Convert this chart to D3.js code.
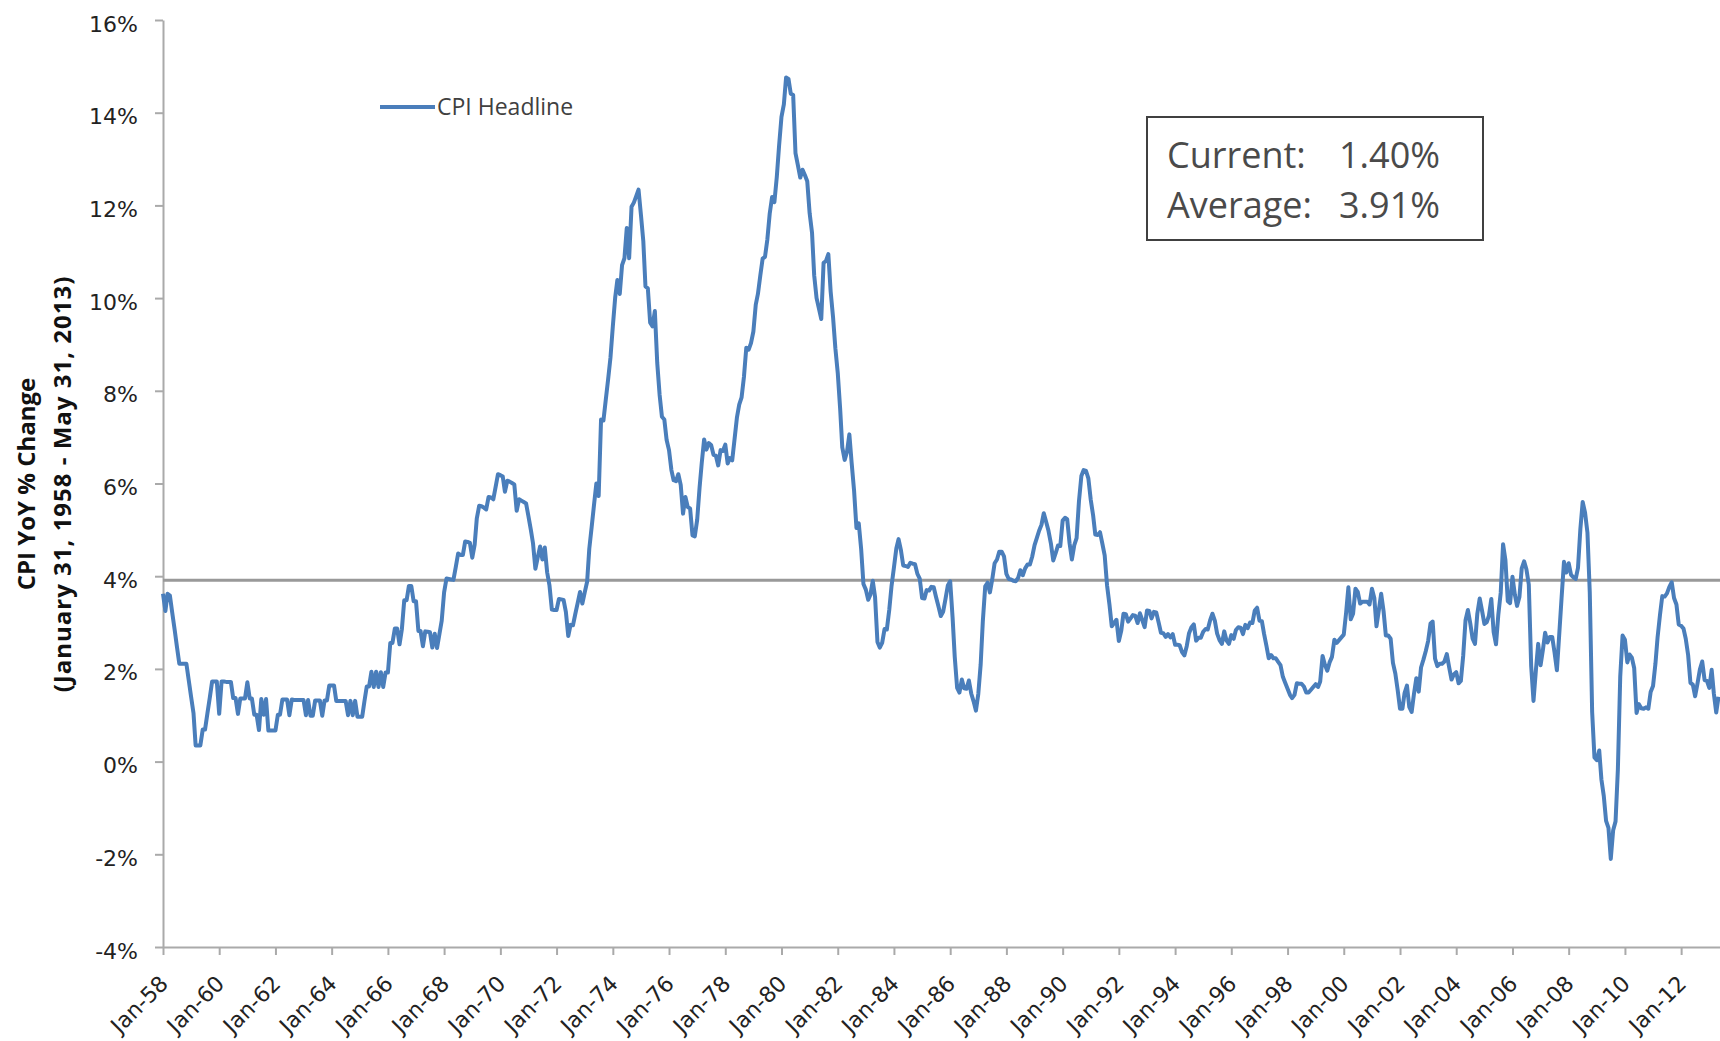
<!DOCTYPE html>
<html>
<head>
<meta charset="utf-8">
<script src="https://cdn.jsdelivr.net/npm/d3@7"></script>
<style>
    body { margin: 0; background: #fff; }
    .axis path, .axis line { stroke: #aaaaaa; stroke-width: 2px; }
    .axis text { font-family: "DejaVu Sans", sans-serif; font-size: 22px; fill: #222; }
</style>
</head>
<body>
<svg id="chart" width="1720" height="1041"></svg>
<script>
// CPI YoY % change, monthly, Jan 1958 - May 2013
const startDate = new Date(1958, 0, 1);
const cpiYoY = [
    3.62, 3.25, 3.62, 3.58, 3.21, 2.85, 2.48, 2.11, 2.11, 2.11, 2.11, 1.76,
    1.40, 1.05, 0.35, 0.35, 0.35, 0.69, 0.69, 1.04, 1.38, 1.73, 1.73, 1.73,
    1.03, 1.73, 1.73, 1.72, 1.72, 1.72, 1.37, 1.37, 1.03, 1.36, 1.36, 1.36,
    1.71, 1.36, 1.36, 1.01, 1.01, 0.68, 1.35, 1.01, 1.35, 0.67, 0.67, 0.67,
    0.67, 1.01, 1.01, 1.34, 1.34, 1.34, 1.00, 1.34, 1.33, 1.33, 1.33, 1.33,
    1.33, 1.00, 1.33, 0.99, 0.99, 1.32, 1.32, 1.32, 0.99, 1.32, 1.32, 1.64,
    1.64, 1.64, 1.31, 1.31, 1.31, 1.31, 1.31, 1.00, 1.31, 1.00, 1.31, 0.97,
    0.97, 0.97, 1.29, 1.62, 1.62, 1.94, 1.61, 1.94, 1.61, 1.93, 1.61, 1.92,
    1.92, 2.56, 2.56, 2.87, 2.87, 2.53, 2.85, 3.48, 3.48, 3.79, 3.79, 3.46,
    3.46, 2.82, 2.82, 2.49, 2.81, 2.80, 2.79, 2.46, 2.76, 2.45, 2.75, 3.04,
    3.65, 3.95, 3.94, 3.93, 3.92, 4.20, 4.49, 4.46, 4.46, 4.75, 4.74, 4.72,
    4.40, 4.68, 5.25, 5.52, 5.51, 5.48, 5.44, 5.71, 5.70, 5.66, 5.93, 6.20,
    6.18, 6.15, 5.82, 6.06, 6.04, 6.01, 5.98, 5.41, 5.66, 5.63, 5.60, 5.57,
    5.29, 5.00, 4.71, 4.16, 4.40, 4.64, 4.36, 4.62, 4.08, 3.80, 3.28, 3.27,
    3.27, 3.51, 3.50, 3.49, 3.23, 2.71, 2.95, 2.94, 3.19, 3.42, 3.66, 3.41,
    3.65, 3.88, 4.59, 5.06, 5.53, 6.00, 5.73, 7.38, 7.36, 7.80, 8.25, 8.71,
    9.39, 10.02, 10.39, 10.09, 10.71, 10.86, 11.51, 10.86, 11.97, 12.06, 12.20, 12.34,
    11.80, 11.23, 10.25, 10.21, 9.47, 9.39, 9.72, 8.60, 7.91, 7.44, 7.38, 6.94,
    6.72, 6.29, 6.07, 6.05, 6.20, 5.97, 5.35, 5.71, 5.49, 5.46, 4.88, 4.86,
    5.22, 5.91, 6.44, 6.95, 6.73, 6.87, 6.83, 6.62, 6.60, 6.39, 6.72, 6.70,
    6.84, 6.43, 6.55, 6.50, 6.95, 7.42, 7.70, 7.86, 8.31, 8.93, 8.89, 9.03,
    9.28, 9.86, 10.09, 10.49, 10.85, 10.89, 11.26, 11.82, 12.18, 12.07, 12.61, 13.29,
    13.91, 14.18, 14.76, 14.73, 14.41, 14.38, 13.13, 12.87, 12.60, 12.77, 12.65, 12.52,
    11.83, 11.41, 10.49, 10.00, 9.78, 9.55, 10.76, 10.80, 10.95, 10.14, 9.59, 8.92,
    8.39, 7.62, 6.78, 6.51, 6.68, 7.06, 6.44, 5.85, 5.04, 5.14, 4.59, 3.83,
    3.71, 3.49, 3.60, 3.90, 3.55, 2.58, 2.46, 2.56, 2.86, 2.85, 3.27, 3.79,
    4.19, 4.60, 4.80, 4.56, 4.23, 4.22, 4.20, 4.29, 4.27, 4.26, 4.05, 3.95,
    3.53, 3.52, 3.70, 3.69, 3.77, 3.76, 3.55, 3.35, 3.14, 3.23, 3.51, 3.80,
    3.89, 3.11, 2.26, 1.59, 1.49, 1.77, 1.58, 1.57, 1.75, 1.47, 1.30, 1.10,
    1.46, 2.10, 3.03, 3.78, 3.86, 3.65, 3.93, 4.28, 4.36, 4.53, 4.53, 4.43,
    4.05, 3.94, 3.93, 3.90, 3.89, 3.96, 4.13, 4.02, 4.17, 4.25, 4.25, 4.42,
    4.67, 4.83, 4.98, 5.11, 5.36, 5.17, 4.98, 4.71, 4.34, 4.49, 4.66, 4.65,
    5.20, 5.26, 5.23, 4.71, 4.36, 4.67, 4.82, 5.62, 6.16, 6.29, 6.27, 6.11,
    5.65, 5.31, 4.90, 4.89, 4.95, 4.70, 4.45, 3.80, 3.39, 2.92, 2.99, 3.06,
    2.60, 2.82, 3.19, 3.18, 3.02, 3.09, 3.16, 3.15, 2.99, 3.20, 3.05, 2.90,
    3.26, 3.25, 3.09, 3.23, 3.22, 3.00, 2.78, 2.77, 2.69, 2.75, 2.68, 2.75,
    2.52, 2.52, 2.51, 2.36, 2.29, 2.49, 2.77, 2.90, 2.96, 2.61, 2.67, 2.67,
    2.80, 2.86, 2.85, 3.05, 3.19, 3.04, 2.76, 2.62, 2.54, 2.81, 2.61, 2.54,
    2.73, 2.65, 2.84, 2.90, 2.89, 2.75, 2.95, 2.88, 3.00, 2.99, 3.26, 3.32,
    3.04, 3.03, 2.76, 2.50, 2.23, 2.30, 2.23, 2.23, 2.15, 2.08, 1.83, 1.70,
    1.57, 1.44, 1.37, 1.44, 1.69, 1.68, 1.68, 1.62, 1.49, 1.49, 1.55, 1.61,
    1.67, 1.61, 1.73, 2.28, 2.09, 1.96, 2.14, 2.26, 2.63, 2.56, 2.62, 2.68,
    2.74, 3.22, 3.76, 3.07, 3.19, 3.73, 3.66, 3.41, 3.45, 3.45, 3.45, 3.39,
    3.73, 3.53, 2.92, 3.27, 3.62, 3.25, 2.72, 2.72, 2.65, 2.13, 1.90, 1.55,
    1.14, 1.14, 1.48, 1.64, 1.18, 1.07, 1.46, 1.80, 1.51, 2.03, 2.20, 2.38,
    2.60, 2.98, 3.02, 2.22, 2.06, 2.11, 2.11, 2.16, 2.32, 2.04, 1.77, 1.88,
    1.93, 1.69, 1.74, 2.29, 3.05, 3.27, 2.99, 2.65, 2.54, 3.19, 3.52, 3.26,
    2.97, 3.01, 3.15, 3.51, 2.80, 2.53, 3.17, 3.64, 4.69, 4.35, 3.46, 3.42,
    3.99, 3.60, 3.36, 3.55, 4.17, 4.32, 4.15, 3.82, 2.06, 1.31, 1.97, 2.54,
    2.08, 2.42, 2.78, 2.57, 2.69, 2.69, 2.36, 1.97, 2.76, 3.54, 4.31, 4.08,
    4.28, 4.03, 3.98, 3.94, 4.18, 5.02, 5.60, 5.37, 4.94, 3.66, 1.07, 0.09,
    0.03, 0.24, -0.38, -0.74, -1.28, -1.43, -2.10, -1.48, -1.29, -0.18, 1.84, 2.72,
    2.63, 2.14, 2.31, 2.24, 2.02, 1.05, 1.24, 1.15, 1.14, 1.17, 1.14, 1.50,
    1.63, 2.11, 2.68, 3.16, 3.57, 3.56, 3.63, 3.77, 3.87, 3.53, 3.39, 2.96,
    2.93, 2.87, 2.65, 2.30, 1.70, 1.66, 1.41, 1.69, 1.99, 2.16, 1.76, 1.74,
    1.59, 1.98, 1.47, 1.06, 1.40
];
const currentValue = 1.40;
const averageValue = 3.91;
const yTicks = [-4, -2, 0, 2, 4, 6, 8, 10, 12, 14, 16];
const xTickYears = [1958, 1960, 1962, 1964, 1966, 1968, 1970, 1972, 1974, 1976, 1978, 1980, 1982, 1984,
    1986, 1988, 1990, 1992, 1994, 1996, 1998, 2000, 2002, 2004, 2006, 2008, 2010, 2012];
const seriesName = "CPI Headline";
const yTitle = ["CPI YoY % Change", "(January 31, 1958 - May 31, 2013)"];

let svg = d3.select("#chart");
let margin = {
        top: 20,
        right: 0,
        bottom: 94,
        left: 163
    },
    width = 1720 - margin.left - margin.right,
    height = 1041 - margin.top - margin.bottom;

let data = cpiYoY.map((v, i) => ({ date: d3.timeMonth.offset(startDate, i), value: v }));

let x = d3.scaleTime().domain([startDate, new Date(2013, 4, 20)]).range([0, width]),
    y = d3.scaleLinear().domain([-4, 16]).range([height, 0]);

let g = svg.append("g")
    .attr("transform", "translate(" + margin.left + "," + margin.top + ")");

// axes
g.append("g")
    .attr("class", "axis axis--y")
    .call(d3.axisLeft(y).tickValues(yTicks).tickFormat(d => d + "%")
        .tickSizeInner(8).tickSizeOuter(0).tickPadding(17))
    .selectAll("text")
    .attr("dy", "0.5em");

g.append("g")
    .attr("class", "axis axis--x")
    .attr("transform", "translate(0," + height + ")")
    .call(d3.axisBottom(x).tickValues(xTickYears.map(yr => new Date(yr, 0, 1)))
        .tickFormat(d3.timeFormat("Jan-%y")).tickSizeInner(8).tickSizeOuter(0))
    .selectAll("text")
    .attr("y", 0)
    .attr("dy", 0)
    .attr("text-anchor", "end")
    .attr("transform", "translate(6,38) rotate(-45)");

// average line
g.append("line")
    .attr("class", "avg-line")
    .attr("x1", 0)
    .attr("x2", width)
    .attr("y1", y(averageValue))
    .attr("y2", y(averageValue))
    .style("stroke", "#999999")
    .style("stroke-width", 3);

// CPI line
g.append("path")
    .datum(data)
    .attr("class", "cpi-line")
    .attr("fill", "none")
    .attr("stroke", "#4a7ebb")
    .attr("stroke-width", 4)
    .attr("stroke-linejoin", "round")
    .attr("d", d3.line().x(d => x(d.date)).y(d => y(d.value)));

// legend
let legend = svg.append("g").attr("class", "legend");
legend.append("line")
    .attr("x1", 380).attr("x2", 435)
    .attr("y1", 107).attr("y2", 107)
    .style("stroke", "#4a7ebb")
    .style("stroke-width", 4);
legend.append("text")
    .attr("x", 437)
    .attr("y", 115)
    .style("font-family", "Open Sans, sans-serif")
    .style("font-size", "23px")
    .style("fill", "#404040")
    .text(seriesName);

// current / average box
let box = svg.append("g").attr("class", "stat-box");
box.append("rect")
    .attr("x", 1147).attr("y", 117)
    .attr("width", 336).attr("height", 123)
    .style("fill", "#fff")
    .style("stroke", "#404040")
    .style("stroke-width", 2);
let rows = [["Current:", currentValue], ["Average:", averageValue]];
rows.forEach((r, i) => {
    box.append("text")
        .attr("x", 1167).attr("y", 168 + i * 50)
        .style("font-family", "Open Sans, sans-serif")
        .style("font-size", "36px")
        .style("fill", "#4a4a4a")
        .text(r[0]);
    box.append("text")
        .attr("x", 1339).attr("y", 168 + i * 50)
        .style("font-family", "Open Sans, sans-serif")
        .style("font-size", "36px")
        .style("fill", "#4a4a4a")
        .text(r[1].toFixed(2) + "%");
});

// y axis title
yTitle.forEach((t, i) => {
    svg.append("text")
        .attr("class", "axis--y-label")
        .attr("transform", "translate(" + (35 + i * 36) + ",484) rotate(-90)")
        .style("text-anchor", "middle")
        .style("font-family", "Open Sans, sans-serif")
        .style("font-weight", "bold")
        .style("font-size", "24px")
        .style("letter-spacing", i === 1 ? "1px" : "0px")
        .style("fill", "#111")
        .text(t);
});
</script>
</body>
</html>
